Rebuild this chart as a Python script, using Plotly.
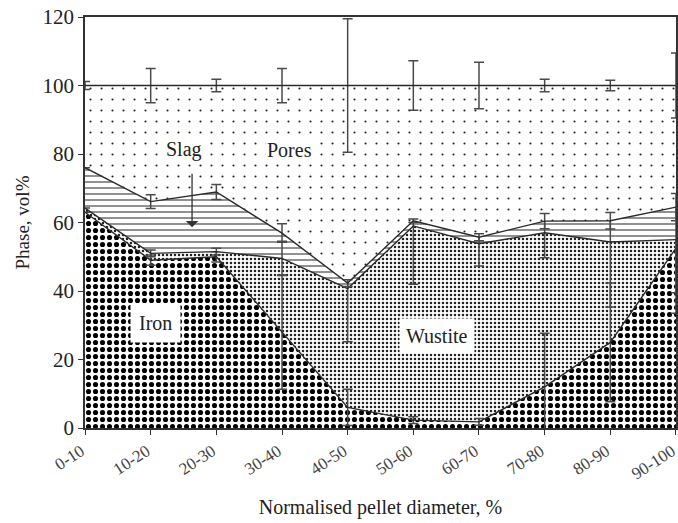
import numpy as np
import plotly.graph_objects as go

# ---- data (vol%) ----
categories = ["0-10", "10-20", "20-30", "30-40", "40-50",
              "50-60", "60-70", "70-80", "80-90", "90-100"]
iron    = [63.0, 49.0, 50.0, 28.0, 6.0, 2.3, 1.8, 12.0, 25.0, 52.5]
wustite = [1.2, 2.0, 1.5, 21.5, 34.7, 56.7, 52.0, 45.0, 29.3, 2.5]
slag    = [11.8, 15.1, 17.4, 7.4, 1.6, 1.5, 1.9, 3.4, 6.2, 9.5]
pores   = [24.0, 33.9, 31.1, 43.1, 57.7, 39.5, 44.3, 39.6, 39.5, 35.5]

iron_err    = [0.0, 1.5, 1.5, 16.7, 5.3, 1.0, 1.0, 15.7, 17.3, 13.0]
wustite_err = [0.0, 1.0, 1.0, 5.0, 15.5, 17.0, 6.5, 7.3, 19.0, 21.5]
slag_err    = [0.0, 2.0, 2.2, 2.7, 1.0, 0.5, 1.0, 2.2, 2.4, 4.0]
pores_err   = [1.2, 5.0, 1.8, 5.0, 19.5, 7.2, 6.8, 1.8, 1.5, 9.5]

y_ticks = [0, 20, 40, 60, 80, 100, 120]

x = list(range(len(categories)))
layers = [iron, wustite, slag, pores]
cum = np.cumsum(np.array(layers), axis=0)

FONT = "Liberation Serif, Times New Roman, serif"
LINE = "#2a2a2a"
ERR = "#4a4a4a"

patterns = [
    dict(shape=".", fgcolor="#000000", bgcolor="white", size=7, solidity=0.42, fgopacity=1),
    dict(shape=".", fgcolor="#222222", bgcolor="white", size=4, solidity=0.32, fgopacity=1),
    dict(shape="-", fgcolor="#333333", bgcolor="white", size=6, solidity=0.18, fgopacity=1),
    dict(shape=".", fgcolor="#222222", bgcolor="white", size=11, solidity=0.03, fgopacity=1),
]
errs = [iron_err, wustite_err, slag_err, pores_err]
names = ["Iron", "Wustite", "Slag", "Pores"]

fig = go.Figure()
for i in range(4):
    fig.add_trace(go.Scatter(
        x=x, y=cum[i], mode="lines", name=names[i],
        line=dict(color=LINE, width=1.4),
        fill="tozeroy" if i == 0 else "tonexty",
        fillcolor="white",
        fillpattern=patterns[i],
        error_y=dict(type="data", array=errs[i], visible=True,
                     color=ERR, thickness=1.5, width=5),
        showlegend=False, hoverinfo="skip",
    ))

ann_font = dict(family=FONT, size=20, color="#222")
fig.add_annotation(x=1.08, y=30.7, text="Iron", showarrow=False, font=ann_font,
                   bgcolor="white", borderpad=8)
fig.add_annotation(x=5.36, y=26.9, text="Wustite", showarrow=False, font=ann_font,
                   bgcolor="white", borderpad=6)
fig.add_annotation(x=1.50, y=81.2, text="Slag", showarrow=False, font=ann_font,
                   bgcolor="white", borderpad=1)
fig.add_annotation(x=3.11, y=81.2, text="Pores", showarrow=False, font=ann_font,
                   bgcolor="white", borderpad=1)
fig.add_annotation(x=1.63, y=58.6, ax=1.63, ay=74.7, axref="x", ayref="y",
                   xref="x", yref="y", text="", showarrow=True,
                   arrowhead=1, arrowsize=1.6, arrowwidth=1.3, arrowcolor="#333")

fig.update_layout(
    width=678, height=523,
    margin=dict(l=85, r=2, t=17, b=95),
    paper_bgcolor="white", plot_bgcolor="white",
    font=dict(family=FONT, color="#222"),
)
fig.update_xaxes(
    range=[-0.0005, 9.0005], tickvals=x, ticktext=categories, tickangle=-33,
    tickfont=dict(family=FONT, size=17, color="#444"),
    ticks="outside", ticklen=5, tickwidth=1.3, tickcolor="#333",
    showline=True, linecolor="#333", linewidth=1.5, mirror=True,
    showgrid=False, zeroline=False, automargin=False, ticklabeloverflow="allow",
    ticklabelshift=-4,
    title=dict(text="Normalised pellet diameter, %",
               font=dict(family=FONT, size=20, color="#222"), standoff=18),
)
fig.update_yaxes(
    range=[0, 120], tickvals=y_ticks,
    tickfont=dict(family=FONT, size=21, color="#222"),
    ticks="outside", ticklen=5, tickwidth=1.3, tickcolor="#333",
    showline=True, linecolor="#333", linewidth=1.5, mirror=True,
    showgrid=False, zeroline=False, automargin=False,
    title=dict(text="Phase, vol%", font=dict(family=FONT, size=19, color="#222"),
               standoff=8),
)

fig.write_html("out.html", config={"displayModeBar": False},
               post_script="document.body.style.margin='0';")
